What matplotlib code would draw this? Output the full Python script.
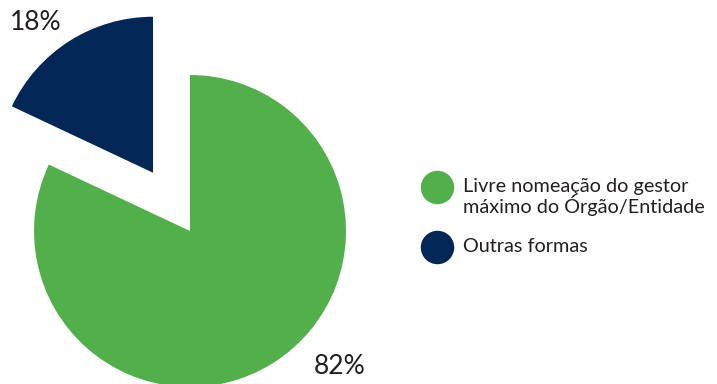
import matplotlib
matplotlib.use("Agg")
import matplotlib.pyplot as plt

plt.rcParams['font.family'] = ['Lato', 'DejaVu Sans']

# data
labels = ['Outras formas', 'Livre nomeação do gestor\nmáximo do Órgão/Entidade']
values = [18, 82]
pct_labels = ['18%', '82%']
colors = ['#012757', '#52B04A']
explode = [69, 0]  # offset in pixel units (explode is not scaled by radius)

fig = plt.figure(figsize=(7.17, 3.84), dpi=100)
ax = fig.add_axes([0, 0, 1, 1])

# pie in pixel-like data units (origin bottom-left)
ax.pie(values, colors=colors, explode=explode, startangle=90, counterclock=True,
       center=(190, 153), radius=156, wedgeprops=dict(linewidth=0))

ax.set_xlim(0, 717)
ax.set_ylim(0, 384)
ax.set_aspect('equal')
ax.axis('off')

# percentage labels
ax.text(36, 361, pct_labels[0], fontsize=19, color='#231F20', ha='center', va='center')
ax.text(340, 17, pct_labels[1], fontsize=19, color='#231F20', ha='center', va='center')

# legend (green first, then navy)
leg_y = [197, 137]
for i, idx in enumerate([1, 0]):
    ax.scatter([437], [leg_y[i]], s=580, color=colors[idx], linewidths=0, zorder=3)
    ax.text(463, leg_y[i] - (0 if idx == 0 else 10), labels[idx], fontsize=14.3,
            color='#231F20', ha='left', va='center', linespacing=1.0)

fig.savefig('out.png', dpi=100)
